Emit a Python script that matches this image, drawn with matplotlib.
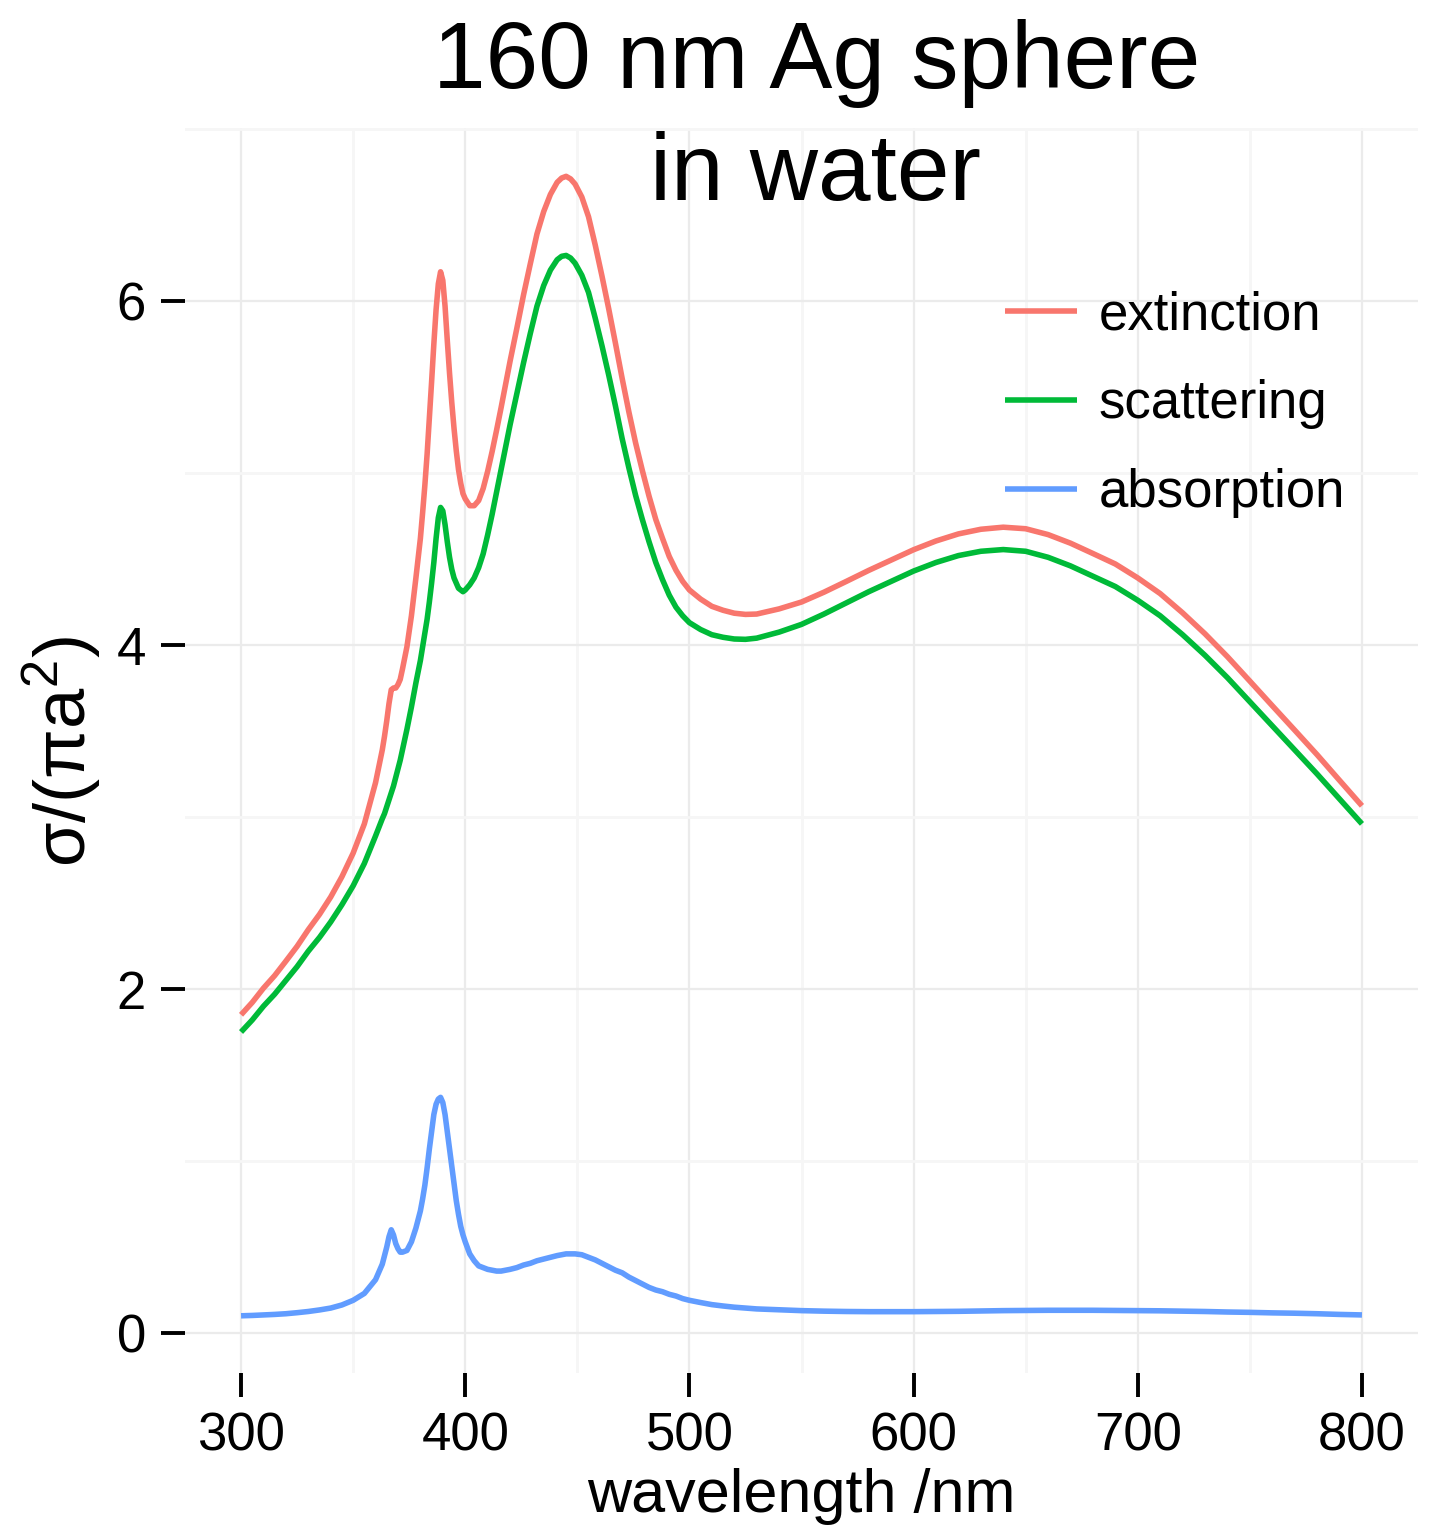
import matplotlib
matplotlib.use('Agg')
import matplotlib.pyplot as plt

plt.rcParams['font.family'] = ['Liberation Sans', 'DejaVu Sans']

# spectra (wavelength in nm, cross sections in units of pi a^2)
wavelength = [300, 305, 310, 315, 320, 325, 330, 335, 340, 345,
              350, 355, 360, 363, 364, 365, 366, 367, 368, 369,
              370, 371, 372, 374, 376, 378, 380, 381, 382, 383,
              384, 385, 386, 387, 388, 389, 390, 391, 392, 393,
              394, 395, 396, 397, 398, 399, 400, 402, 404, 406,
              408, 410, 412, 414, 416, 418, 420, 423, 426, 429,
              432, 435, 438, 441, 443, 445, 447, 449, 452, 455,
              458, 461, 464, 467, 470, 473, 476, 479, 482, 485,
              488, 491, 494, 497, 500, 505, 510, 515, 520, 525,
              530, 540, 550, 560, 570, 580, 590, 600, 610, 620,
              630, 640, 650, 660, 670, 680, 690, 700, 710, 720,
              730, 740, 750, 760, 770, 780, 790, 800]

extinction = [1.85, 1.922, 2.005, 2.078, 2.162, 2.248, 2.345, 2.434, 2.535, 2.653,
              2.79, 2.96, 3.20, 3.39, 3.47, 3.56, 3.66, 3.74, 3.75, 3.75,
              3.77, 3.80, 3.86, 3.99, 4.17, 4.39, 4.62, 4.77, 4.93, 5.11,
              5.32, 5.53, 5.75, 5.95, 6.10, 6.17, 6.12, 5.97, 5.77, 5.58,
              5.41, 5.26, 5.13, 5.02, 4.94, 4.88, 4.85, 4.81, 4.81, 4.84,
              4.91, 5.01, 5.125, 5.25, 5.38, 5.515, 5.65, 5.84, 6.035, 6.215,
              6.39, 6.52, 6.62, 6.69, 6.715, 6.725, 6.71, 6.68, 6.605, 6.49,
              6.325, 6.145, 5.955, 5.755, 5.55, 5.355, 5.175, 5.015, 4.865, 4.73,
              4.62, 4.515, 4.435, 4.37, 4.32, 4.267, 4.225, 4.202, 4.185, 4.178,
              4.18, 4.21, 4.25, 4.307, 4.37, 4.434, 4.494, 4.554, 4.605, 4.646,
              4.673, 4.685, 4.676, 4.642, 4.592, 4.532, 4.471, 4.39, 4.299, 4.187,
              4.065, 3.932, 3.79, 3.647, 3.505, 3.362, 3.213, 3.065]

scattering = [1.75, 1.82, 1.90, 1.97, 2.05, 2.13, 2.22, 2.30, 2.39, 2.49,
              2.60, 2.73, 2.89, 2.99, 3.02, 3.06, 3.10, 3.14, 3.18, 3.23,
              3.28, 3.33, 3.39, 3.51, 3.64, 3.78, 3.91, 3.99, 4.07, 4.15,
              4.25, 4.36, 4.48, 4.62, 4.74, 4.80, 4.78, 4.70, 4.60, 4.51,
              4.44, 4.39, 4.36, 4.33, 4.32, 4.31, 4.32, 4.35, 4.39, 4.45,
              4.53, 4.64, 4.76, 4.89, 5.02, 5.15, 5.28, 5.46, 5.64, 5.81,
              5.97, 6.09, 6.18, 6.24, 6.26, 6.265, 6.25, 6.22, 6.15, 6.05,
              5.90, 5.74, 5.57, 5.39, 5.20, 5.03, 4.87, 4.73, 4.60, 4.48,
              4.38, 4.29, 4.22, 4.17, 4.13, 4.09, 4.06, 4.045, 4.035, 4.033,
              4.04, 4.075, 4.12, 4.18, 4.245, 4.31, 4.37, 4.43, 4.48, 4.52,
              4.545, 4.555, 4.545, 4.51, 4.46, 4.40, 4.34, 4.26, 4.17, 4.06,
              3.94, 3.81, 3.67, 3.53, 3.39, 3.25, 3.105, 2.96]

absorption = [0.100, 0.102, 0.105, 0.108, 0.112, 0.118, 0.125, 0.134, 0.145, 0.163,
              0.19, 0.23, 0.31, 0.40, 0.45, 0.50, 0.56, 0.60, 0.57, 0.52,
              0.49, 0.47, 0.47, 0.48, 0.53, 0.61, 0.71, 0.78, 0.86, 0.96,
              1.07, 1.17, 1.27, 1.33, 1.36, 1.37, 1.34, 1.27, 1.17, 1.07,
              0.97, 0.87, 0.77, 0.69, 0.62, 0.57, 0.53, 0.46, 0.42, 0.39,
              0.38, 0.37, 0.365, 0.36, 0.36, 0.365, 0.37, 0.38, 0.395, 0.405,
              0.42, 0.43, 0.44, 0.45, 0.455, 0.46, 0.46, 0.46, 0.455, 0.44,
              0.425, 0.405, 0.385, 0.365, 0.35, 0.325, 0.305, 0.285, 0.265, 0.25,
              0.24, 0.225, 0.215, 0.20, 0.19, 0.177, 0.165, 0.157, 0.15, 0.145,
              0.14, 0.135, 0.13, 0.127, 0.125, 0.124, 0.124, 0.124, 0.125, 0.126,
              0.128, 0.13, 0.131, 0.132, 0.132, 0.132, 0.131, 0.13, 0.129, 0.127,
              0.125, 0.122, 0.12, 0.117, 0.115, 0.112, 0.108, 0.105]

series_names = ['extinction', 'scattering', 'absorption']
series_colors = ['#F8766D', '#00BA38', '#619CFF']

x_major = [300, 400, 500, 600, 700, 800]
x_minor = [350, 450, 550, 650, 750]
y_major = [0, 2, 4, 6]
y_minor = [1, 3, 5, 7]

W, H = 1438, 1526
fig = plt.figure(figsize=(W / 100, H / 100), dpi=100)
ax = fig.add_axes([185 / W, 1 - 1373 / H, (1418 - 185) / W, (1373 - 128) / H])

for vals, name, col in zip([extinction, scattering, absorption], series_names, series_colors):
    ax.plot(wavelength, vals, color=col, lw=4.0, label=name,
            solid_capstyle='butt', solid_joinstyle='round')

ax.set_xlim(275, 825)
ax.set_ylim(-0.2326, 7.006)
ax.set_xticks(x_major)
ax.set_xticks(x_minor, minor=True)
ax.set_yticks(y_major)
ax.set_yticks(y_minor, minor=True)
ax.grid(which='major', color='#EBEBEB', lw=1.6)
ax.grid(which='minor', color='#F6F6F6', lw=2.0)
ax.set_axisbelow(True)
for s in ax.spines.values():
    s.set_visible(False)
ax.tick_params(which='major', direction='out', length=17, width=2.8, color='black',
               labelsize=38, pad=11)
ax.tick_params(which='minor', length=0)

fig.text(62 / W, 1 - 751 / H, r'$\mathregular{σ/(πa^{2})}$',
         rotation=90, ha='center', va='center', fontsize=52)
fig.text(801 / W, 1 - 1512 / H, 'wavelength /nm', ha='center', va='baseline', fontsize=44)

fig.text(817 / W, 1 - 88 / H, '160 nm Ag sphere', ha='center', va='baseline', fontsize=68)
fig.text(815 / W, 1 - 200 / H, 'in water', ha='center', va='baseline', fontsize=68)

leg = ax.legend(loc='upper left', bbox_to_anchor=(1005 / W, 1 - 290 / H),
                bbox_transform=fig.transFigure, frameon=False, fontsize=38,
                handlelength=1.36, handletextpad=0.42, labelspacing=0.74,
                borderpad=0, borderaxespad=0)

fig.savefig('out.png', dpi=100, facecolor='white')
